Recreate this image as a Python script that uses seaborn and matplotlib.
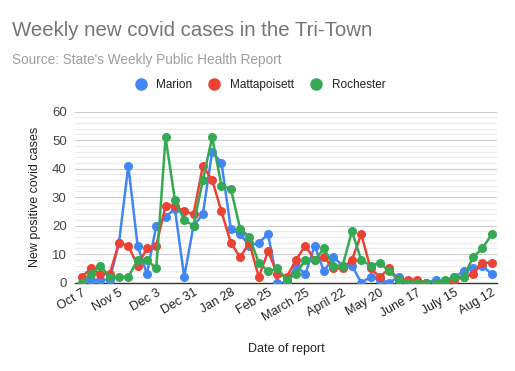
import pandas as pd
import matplotlib.pyplot as plt
import seaborn as sns

# weekly reports, Oct 7 -> Aug 12 (45 weeks)
tick_labels = ['Oct 7', 'Nov 5', 'Dec 3', 'Dec 31', 'Jan 28', 'Feb 25',
               'March 25', 'April 22', 'May 20', 'June 17', 'July 15', 'Aug 12']

marion = [0, 1, 1, 1, 14, 41, 13, 3, 20, 23, 26, 2, 20, 24, 46, 42, 19, 17, 13, 14,
          17, 0, 0, 6, 3, 13, 4, 9, 6, 6, 0, 2, 1, 0, 2, 0, 0, 0, 1, 0,
          2, 4, 5, 6, 3]
mattapoisett = [2, 5, 3, 3, 14, 13, 6, 12, 13, 27, 27, 25, 24, 41, 36, 25, 14, 9, 14, 2,
                11, 3, 2, 8, 13, 8, 9, 5, 5, 8, 17, 5, 2, 5, 1, 1, 1, 0, 0, 0,
                1, 2, 3, 7, 7]
rochester = [0, 3, 6, 2, 2, 2, 8, 8, 5, 51, 29, 22, 20, 36, 51, 34, 33, 19, 16, 7,
             4, 5, 1, 3, 8, 8, 12, 6, 6, 18, 8, 6, 7, 4, 1, 0, 0, 0, 0, 1,
             2, 2, 9, 12, 17]

towns = ['Marion', 'Mattapoisett', 'Rochester']
colores = ['#4285F4', '#EA4335', '#34A853']

semanas = list(range(len(marion)))
df = pd.DataFrame({
    'week': semanas * 3,
    'cases': marion + mattapoisett + rochester,
    'town': [t for t in towns for _ in semanas],
})

sns.set_theme(style="white")
plt.rcParams['font.family'] = ['Liberation Sans', 'DejaVu Sans']

fig = plt.figure(figsize=(5.15, 3.71), dpi=100)
ax = fig.add_axes([75 / 515, 1 - 282.7 / 371, 422 / 515, 171 / 371])

sns.lineplot(data=df, x='week', y='cases', hue='town', palette=colores,
             marker='o', markersize=6.5, markeredgewidth=0, linewidth=1.8,
             ax=ax, legend=False, zorder=3)

ax.set_xlim(-0.72, 44.57)
ax.set_ylim(0, 60)
ax.set_yticks(range(0, 61, 10))
ax.set_yticks(range(0, 61, 2), minor=True)
ax.grid(True, which='major', axis='y', color='#cccccc', linewidth=0.8, zorder=0)
ax.grid(True, which='minor', axis='y', color='#ebebeb', linewidth=0.8, zorder=0)
ax.set_xticks(range(0, 45, 4))
ax.set_xticklabels(tick_labels, rotation=30, ha='right', rotation_mode='anchor',
                   fontsize=9, color='#222222')
ax.tick_params(axis='y', labelsize=9.5, labelcolor='#444444', length=0, pad=6)
ax.tick_params(axis='x', length=0, pad=3)
for lado in ['top', 'right', 'left']:
    ax.spines[lado].set_visible(False)
ax.spines['bottom'].set_color('#333333')
ax.spines['bottom'].set_linewidth(1.0)
ax.set_xlabel('Date of report', fontsize=9, color='#222222', labelpad=14)
ax.set_ylabel('New positive covid cases', fontsize=9, color='#222222', labelpad=8)

# titulo / subtitulo
fig.text(12 / 515, 1 - 31 / 371, 'Weekly new covid cases in the Tri-Town',
         fontsize=14.7, color='#757575', va='center', ha='left')
fig.text(12 / 515, 1 - 60 / 371, "Source: State's Weekly Public Health Report",
         fontsize=9.8, color='#9e9e9e', va='center', ha='left')

# leyenda
handles = [plt.Line2D([], [], marker='o', linestyle='', color=c, markersize=8)
           for c in colores]
fig.legend(handles, towns, loc='center', bbox_to_anchor=(257 / 515, 1 - 85 / 371),
           ncol=3, frameon=False, fontsize=8.5, handletextpad=0.3, columnspacing=0.9,
           labelcolor='#222222')

fig.savefig('out.png', dpi=100)
